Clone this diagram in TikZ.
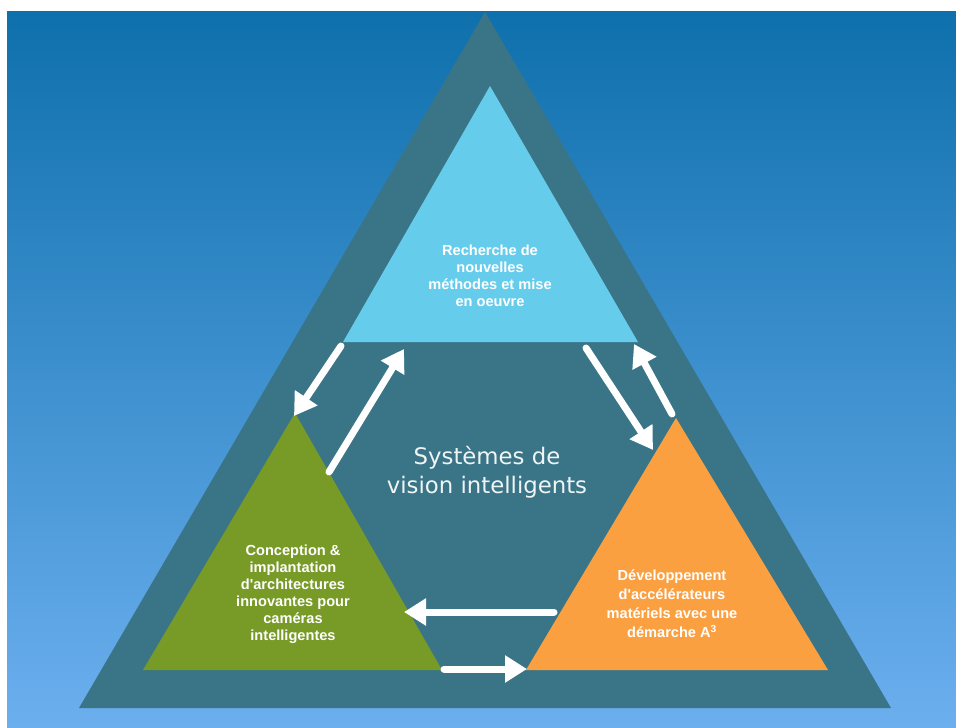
\documentclass[tikz,border=0pt]{standalone}
\usepackage{fontspec}
\setmainfont{Liberation Sans}
\newfontfamily\dejavu{DejaVu Sans}
\usetikzlibrary{arrows.meta}
\definecolor{bgtop}{HTML}{0E70AC}
\definecolor{bgbot}{HTML}{6CAFEF}
\definecolor{framec}{HTML}{3A7587}
\definecolor{topc}{HTML}{66CCEC}
\definecolor{greenc}{HTML}{789A27}
\definecolor{orangec}{HTML}{FBA041}
\newcommand{\apos}{\textquotesingle}
\begin{document}
\begin{tikzpicture}[x=1pt,y=-1pt,
  flow/.style={draw=white, line width=7pt, line cap=round, -{Triangle[width=26pt,length=22pt]}},
  lbl/.style={text=white, font=\bfseries\fontsize{14.6}{17}\selectfont, align=center, inner sep=0pt},
  ctr/.style={text=white!92!framec, font=\dejavu\fontsize{22.8}{29}\selectfont, align=center, inner sep=0pt}]
\useasboundingbox (0,0) rectangle (956,728);
\fill[white] (0,0) rectangle (956,728);
\shade[top color=bgtop, bottom color=bgbot] (7,11) rectangle (956,728);
% outer frame triangle
\fill[framec] (79,708) -- (891,708) -- (485,12) -- cycle;
% inner triangles
\coordinate (tl) at (343,342); \coordinate (tr) at (638,342); \coordinate (tt) at (490,86);
\coordinate (gl) at (143,670); \coordinate (gr) at (442,670); \coordinate (gt) at (295,413);
\coordinate (ol) at (526,670); \coordinate (or) at (828,670); \coordinate (ot) at (676,418);
\fill[topc] (tl) -- (tr) -- (tt) -- cycle;
\fill[greenc] (gl) -- (gr) -- (gt) -- cycle;
\fill[orangec] (ol) -- (or) -- (ot) -- cycle;
% labels
\node[lbl] (rech) at (490,276) {Recherche de\\nouvelles\\méthodes et mise\\en oeuvre};
\node[lbl] (conc) at (293,594) {Conception \&\\implantation\\d\apos architectures\\innovantes pour\\caméras\\intelligentes};
\node[lbl, font=\bfseries\fontsize{14.6}{19}\selectfont] (dev) at (672,604) {Développement\\d\apos accélérateurs\\matériels avec une\\démarche A\textsuperscript{3}};
\node[ctr] (sys) at (487,472) {Systèmes de\\vision intelligents};
% arrow anchor points
\coordinate (a1s) at (341,346); \coordinate (a1e) at (294,416);
\coordinate (a2s) at (329,472); \coordinate (a2e) at (404,349);
\coordinate (a3s) at (586,348); \coordinate (a3e) at (653,450);
\coordinate (a4s) at (672,414); \coordinate (a4e) at (634,344);
\coordinate (a5s) at (554,612); \coordinate (a5e) at (404,612);
\coordinate (a6s) at (444,669); \coordinate (a6e) at (527,669);
\draw[flow] (a1s) -- (a1e);
\draw[flow] (a2s) -- (a2e);
\draw[flow] (a3s) -- (a3e);
\draw[flow] (a4s) -- (a4e);
\draw[flow] (a5s) -- (a5e);
\draw[flow] (a6s) -- (a6e);
\end{tikzpicture}
\end{document}
